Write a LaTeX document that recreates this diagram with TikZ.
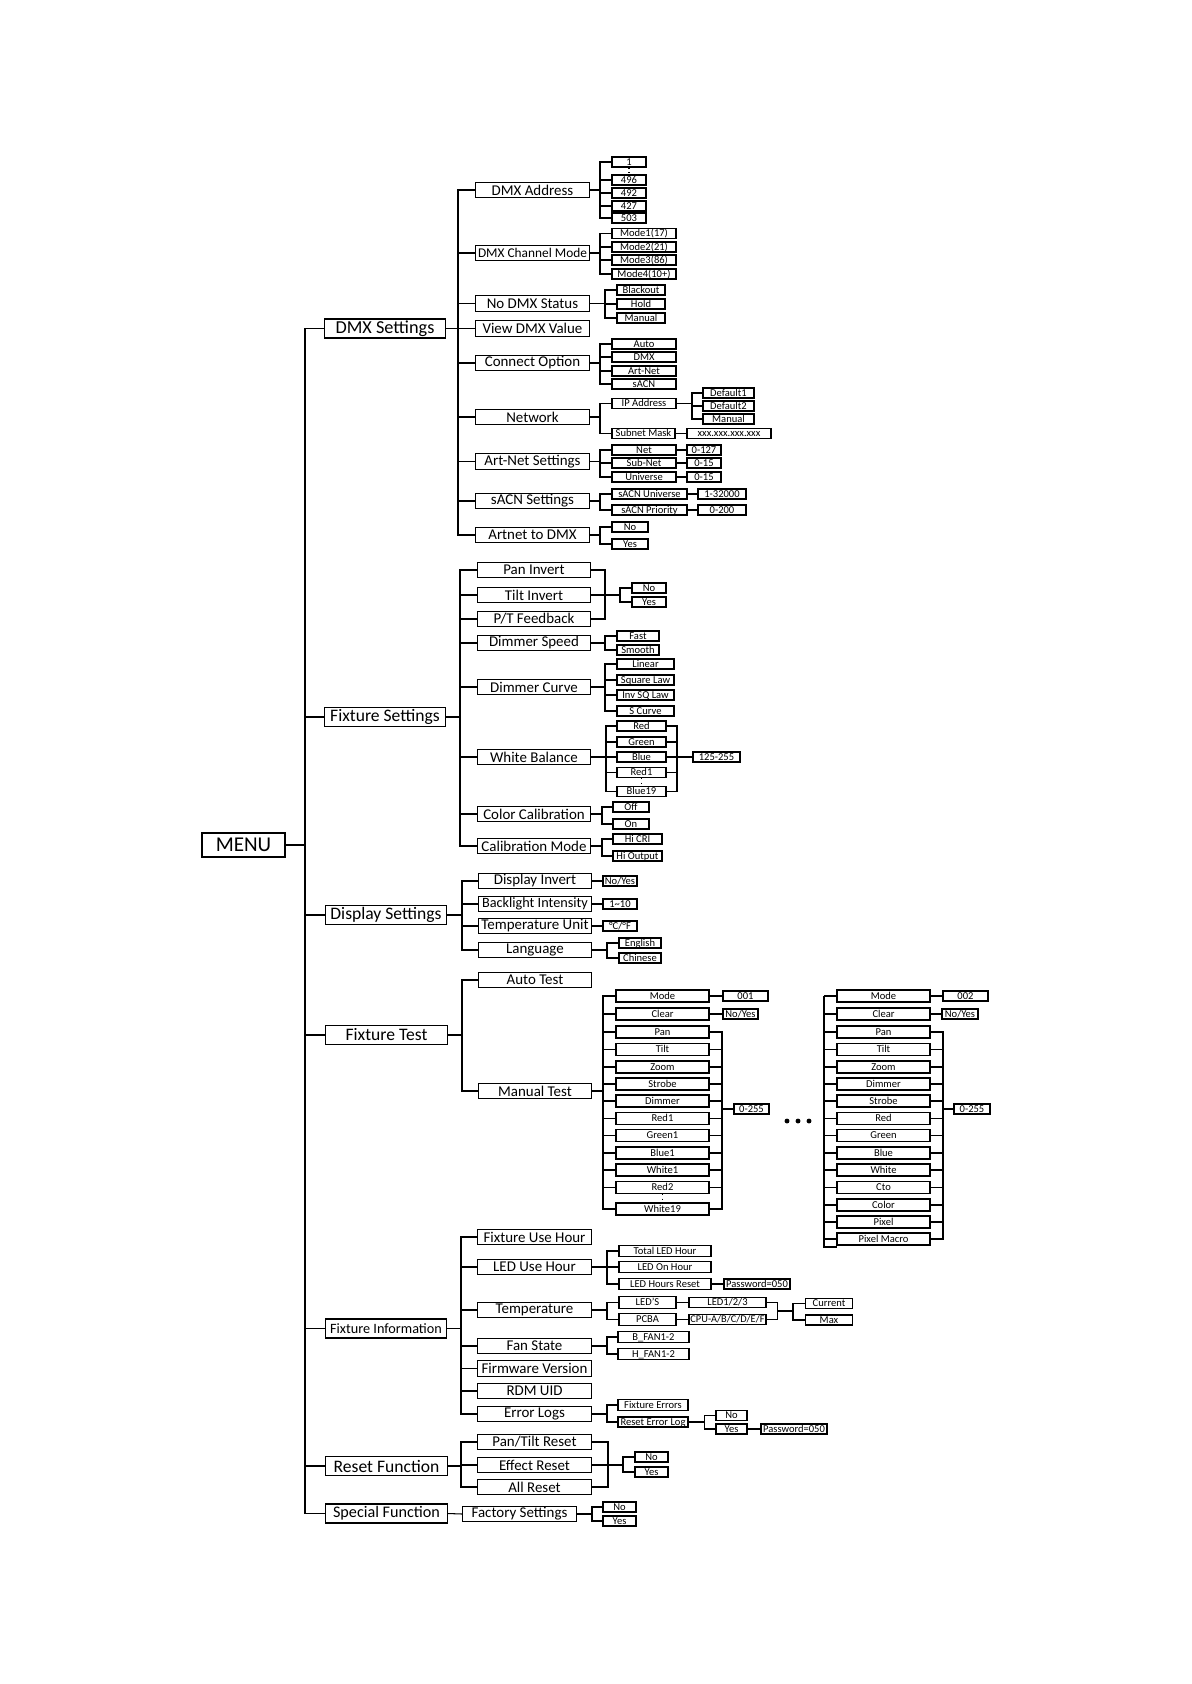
\documentclass[tikz,border=0pt]{standalone}
\usepackage{fontspec}
\setmainfont{Carlito}

\tikzset{
  menubox/.style={draw, line width=0.8pt, minimum width=1.66cm, minimum height=0.48cm, inner sep=0pt, font=\fontsize{12}{12}\selectfont},
  catbox/.style={draw, line width=0.7pt, minimum width=2.43cm, minimum height=0.38cm, inner sep=0pt, font=\fontsize{10}{10}\selectfont},
  itembox/.style={draw, line width=0.7pt, minimum width=2.27cm, minimum height=0.31cm, inner sep=0pt, font=\fontsize{8.5}{9}\selectfont},
  optbox/.style={draw, line width=0.6pt, minimum height=0.2cm, inner sep=0pt, text height=4.4pt, text depth=0.6pt, font=\fontsize{6}{6.5}\selectfont},
  chbox/.style={optbox, minimum width=1.86cm, minimum height=0.24cm},
  wire/.style={line width=0.6pt},
}

\begin{document}
\begin{tikzpicture}[x=0.02cm, y=-0.02cm]
\useasboundingbox (0,0) rectangle (1191,1684);

% Menu and main groups
\node[menubox] (menu) at (243.5,845) {MENU};
\coordinate (trunk) at (305,845);
\node[catbox, font=\fontsize{10.4}{11}\selectfont] (dmx) at (385,328.5) {DMX Settings};
\node[catbox] (fix) at (385,717) {Fixture Settings};
\node[catbox] (disp) at (386,915) {Display Settings};
\node[catbox] (ftest) at (386.5,1035) {Fixture Test};
\node[catbox, font=\fontsize{8.1}{9}\selectfont] (finfo) at (386,1328.5) {Fixture Information};
\node[catbox] (reset) at (386.5,1466) {Reset Function};
\node[catbox, font=\fontsize{9.2}{10}\selectfont] (special) at (386.5,1513.5) {Special Function};
\foreach \c in {dmx,fix,disp,ftest,finfo,reset,special}
  \draw[wire] (menu.east) -| (trunk |- \c) -- (\c.west);

% DMX Settings
\node[itembox] (dmxaddr) at (532.5,190) {DMX Address};
\node[itembox, font=\fontsize{7.6}{8}\selectfont] (chmode) at (532.5,253) {DMX Channel Mode};
\node[itembox] (nodmx) at (532.5,303.5) {No DMX Status};
\node[itembox] (viewdmx) at (532.5,328.5) {View DMX Value};
\node[itembox] (conn) at (532.5,363) {Connect Option};
\node[itembox] (net) at (532.5,417) {Network};
\node[itembox] (artset) at (532.5,461.5) {Art-Net Settings};
\node[itembox] (sacnset) at (532.5,501) {sACN Settings};
\node[itembox] (art2dmx) at (532.5,535) {Artnet to DMX};
\coordinate (bdmx) at (458,0);
\foreach \c in {dmxaddr,chmode,nodmx,viewdmx,conn,net,artset,sacnset,art2dmx}
  \draw[wire] (dmx.east) -| (bdmx |- \c) -- (\c.west);

\node[optbox, minimum width=0.68cm] (a1) at (629,162) {1};
\node[optbox, minimum width=0.68cm] (a496) at (629,180) {496};
\node[optbox, minimum width=0.68cm] (a492) at (629,193) {492};
\node[optbox, minimum width=0.68cm] (a427) at (629,206) {427};
\node[optbox, minimum width=0.68cm] (a503) at (629,218) {503};
\draw[wire, dotted] (a1.south) -- (a496.north);
\coordinate (baddr) at (600,0);
\foreach \c in {a1,a496,a492,a427,a503}
  \draw[wire] (dmxaddr.east) -| (baddr |- \c) -- (\c.west);

\node[optbox, minimum width=1.28cm] (m1) at (644,233.5) {Mode1(17)};
\node[optbox, minimum width=1.28cm] (m2) at (644,247) {Mode2(21)};
\node[optbox, minimum width=1.28cm] (m3) at (644,260) {Mode3(86)};
\node[optbox, minimum width=1.28cm] (m4) at (644,274) {Mode4(10+)};
\coordinate (bmode) at (600,0);
\foreach \c in {m1,m2,m3,m4}
  \draw[wire] (chmode.east) -| (bmode |- \c) -- (\c.west);

\node[optbox, minimum width=0.96cm] (nd1) at (641,290) {Blackout};
\node[optbox, minimum width=0.96cm] (nd2) at (641,304) {Hold};
\node[optbox, minimum width=0.96cm] (nd3) at (641,318) {Manual};
\coordinate (bnodmx) at (605,0);
\foreach \c in {nd1,nd2,nd3}
  \draw[wire] (nodmx.east) -| (bnodmx |- \c) -- (\c.west);

\node[optbox, minimum width=1.28cm] (c1) at (644,344) {Auto};
\node[optbox, minimum width=1.28cm] (c2) at (644,357) {DMX};
\node[optbox, minimum width=1.28cm] (c3) at (644,371) {Art-Net};
\node[optbox, minimum width=1.28cm] (c4) at (644,384) {sACN};
\coordinate (bconn) at (600,0);
\foreach \c in {c1,c2,c3,c4}
  \draw[wire] (conn.east) -| (bconn |- \c) -- (\c.west);

\node[optbox, minimum width=1.28cm] (ip) at (644,403.5) {IP Address};
\node[optbox, minimum width=1.26cm] (subnet) at (643.5,433.5) {Subnet Mask};
\coordinate (bnet) at (600,0);
\foreach \c in {ip,subnet}
  \draw[wire] (net.east) -| (bnet |- \c) -- (\c.west);
\node[optbox, minimum width=1.02cm] (d1) at (728.5,393) {Default1};
\node[optbox, minimum width=1.02cm] (d2) at (728.5,406) {Default2};
\node[optbox, minimum width=1.02cm] (d3) at (728.5,419) {Manual};
\coordinate (bip) at (692,0);
\foreach \c in {d1,d2,d3}
  \draw[wire] (ip.east) -| (bip |- \c) -- (\c.west);
\node[optbox, minimum width=1.68cm] (mask) at (729,433.5) {xxx.xxx.xxx.xxx};
\draw[wire] (subnet.east) -- (mask.west);

\node[optbox, minimum width=1.28cm] (an1) at (644,450) {Net};
\node[optbox, minimum width=1.28cm] (an2) at (644,463) {Sub-Net};
\node[optbox, minimum width=1.28cm] (an3) at (644,477) {Universe};
\node[optbox, minimum width=0.68cm] (av1) at (704,450) {0-127};
\node[optbox, minimum width=0.68cm] (av2) at (704,463) {0-15};
\node[optbox, minimum width=0.68cm] (av3) at (704,477) {0-15};
\coordinate (bart) at (600,0);
\foreach \c/\v in {an1/av1,an2/av2,an3/av3} {
  \draw[wire] (artset.east) -| (bart |- \c) -- (\c.west);
  \draw[wire] (\c.east) -- (\v.west);
}

\node[optbox, minimum width=1.5cm] (sc1) at (649.5,494) {sACN Universe};
\node[optbox, minimum width=1.5cm] (sc2) at (649.5,510) {sACN Priority};
\node[optbox, minimum width=0.96cm] (sv1) at (722,494) {1-32000};
\node[optbox, minimum width=0.96cm] (sv2) at (722,510) {0-200};
\coordinate (bsacn) at (600,0);
\foreach \c/\v in {sc1/sv1,sc2/sv2} {
  \draw[wire] (sacnset.east) -| (bsacn |- \c) -- (\c.west);
  \draw[wire] (\c.east) -- (\v.west);
}

\node[optbox, minimum width=0.72cm] (ad1) at (630,527) {No};
\node[optbox, minimum width=0.72cm] (ad2) at (630,544) {Yes};
\coordinate (bad) at (600,0);
\foreach \c in {ad1,ad2}
  \draw[wire] (art2dmx.east) -| (bad |- \c) -- (\c.west);

% Fixture Settings
\node[itembox] (panInv) at (534,570) {Pan Invert};
\node[itembox] (tiltInv) at (534,595) {Tilt Invert};
\node[itembox] (ptfb) at (534,619) {P/T Feedback};
\node[itembox] (dimSpd) at (534,643) {Dimmer Speed};
\node[itembox] (dimCur) at (534,687) {Dimmer Curve};
\node[itembox] (wb) at (534,757) {White Balance};
\node[itembox] (colCal) at (534,814) {Color Calibration};
\node[itembox] (calMode) at (534,846) {Calibration Mode};
\coordinate (bfix) at (460,0);
\foreach \c in {panInv,tiltInv,ptfb,dimSpd,dimCur,wb,colCal,calMode}
  \draw[wire] (fix.east) -| (bfix |- \c) -- (\c.west);

\node[optbox, minimum width=0.68cm] (inv1) at (649,588) {No};
\node[optbox, minimum width=0.68cm] (inv2) at (649,602) {Yes};
\coordinate (jinv) at (605,595);
\coordinate (binv) at (620,595);
\foreach \c in {panInv,tiltInv,ptfb}
  \draw[wire] (\c.east) -| (jinv);
\draw[wire] (jinv) -- (binv);
\foreach \c in {inv1,inv2}
  \draw[wire] (binv) |- (\c.west);

\node[optbox, minimum width=0.84cm] (ds1) at (638,636) {Fast};
\node[optbox, minimum width=0.84cm] (ds2) at (638,650) {Smooth};
\coordinate (bds) at (605,0);
\foreach \c in {ds1,ds2}
  \draw[wire] (dimSpd.east) -| (bds |- \c) -- (\c.west);

\node[optbox, minimum width=1.14cm] (dc1) at (645.5,664) {Linear};
\node[optbox, minimum width=1.14cm] (dc2) at (645.5,680) {Square Law};
\node[optbox, minimum width=1.14cm] (dc3) at (645.5,695) {Inv SQ Law};
\node[optbox, minimum width=1.14cm] (dc4) at (645.5,711) {S Curve};
\coordinate (bdc) at (605,0);
\foreach \c in {dc1,dc2,dc3,dc4}
  \draw[wire] (dimCur.east) -| (bdc |- \c) -- (\c.west);

\node[optbox, minimum width=0.98cm] (wb1) at (641.5,726) {Red};
\node[optbox, minimum width=0.98cm] (wb2) at (641.5,742) {Green};
\node[optbox, minimum width=0.98cm] (wb3) at (641.5,757) {Blue};
\node[optbox, minimum width=0.98cm] (wb4) at (641.5,772.5) {Red1};
\node[optbox, minimum width=0.98cm] (wb5) at (641.5,791.5) {Blue19};
\node[optbox, minimum width=0.94cm] (wbv) at (716.5,757) {125-255};
\draw[wire, dotted] (wb4.south) -- (wb5.north);
\coordinate (bwb) at (606,0);
\coordinate (jwb) at (677,757);
\foreach \c in {wb1,wb2,wb3,wb4,wb5} {
  \draw[wire] (wb.east) -| (bwb |- \c) -- (\c.west);
  \draw[wire] (\c.east) -| (jwb);
}
\draw[wire] (jwb) -- (wbv.west);

\node[optbox, minimum width=0.72cm] (cc1) at (631,807) {Off};
\node[optbox, minimum width=0.72cm] (cc2) at (631,824) {On};
\coordinate (bcc) at (602,0);
\foreach \c in {cc1,cc2}
  \draw[wire] (colCal.east) -| (bcc |- \c) -- (\c.west);

\node[optbox, minimum width=0.98cm] (cm1) at (637.5,839) {Hi CRI};
\node[optbox, minimum width=0.98cm] (cm2) at (637.5,856) {Hi Output};
\coordinate (bcm) at (602,0);
\foreach \c in {cm1,cm2}
  \draw[wire] (calMode.east) -| (bcm |- \c) -- (\c.west);

% Display Settings
\node[itembox] (dInv) at (535,881) {Display Invert};
\node[itembox, font=\fontsize{8.1}{9}\selectfont] (blInt) at (535,904) {Backlight Intensity};
\node[itembox] (tUnit) at (535,926) {Temperature Unit};
\node[itembox] (lang) at (535,950) {Language};
\coordinate (bdisp) at (462,0);
\foreach \c in {dInv,blInt,tUnit,lang}
  \draw[wire] (disp.east) -| (bdisp |- \c) -- (\c.west);
\node[optbox, minimum width=0.68cm] (dv1) at (620,881) {No/Yes};
\node[optbox, minimum width=0.68cm] (dv2) at (620,904) {1\textasciitilde10};
\node[optbox, minimum width=0.68cm] (dv3) at (620,926) {°C/°F};
\foreach \c/\v in {dInv/dv1,blInt/dv2,tUnit/dv3}
  \draw[wire] (\c.east) -- (\v.west);
\node[optbox, minimum width=0.84cm] (lg1) at (640,943) {English};
\node[optbox, minimum width=0.84cm] (lg2) at (640,958) {Chinese};
\coordinate (blang) at (607,0);
\foreach \c in {lg1,lg2}
  \draw[wire] (lang.east) -| (blang |- \c) -- (\c.west);

% Fixture Test
\node[itembox] (auto) at (535,980) {Auto Test};
\node[itembox] (manual) at (535,1091) {Manual Test};
\coordinate (btest) at (462,0);
\foreach \c in {auto,manual}
  \draw[wire] (ftest.east) -| (btest |- \c) -- (\c.west);

\node[chbox] (mt1) at (662.5,996) {Mode};
\node[chbox] (mt2) at (662.5,1014) {Clear};
\node[chbox] (mt3) at (662.5,1032) {Pan};
\node[chbox] (mt4) at (662.5,1049.5) {Tilt};
\node[chbox] (mt5) at (662.5,1067) {Zoom};
\node[chbox] (mt6) at (662.5,1084) {Strobe};
\node[chbox] (mt7) at (662.5,1101) {Dimmer};
\node[chbox] (mt8) at (662.5,1118.5) {Red1};
\node[chbox] (mt9) at (662.5,1135.5) {Green1};
\node[chbox] (mt10) at (662.5,1153) {Blue1};
\node[chbox] (mt11) at (662.5,1170) {White1};
\node[chbox] (mt12) at (662.5,1187.5) {Red2};
\node[chbox] (mt13) at (662.5,1209) {White19};
\draw[wire, dotted] (mt12.south) -- (mt13.north);
\coordinate (bmt) at (603,0);
\foreach \c in {mt1,mt2,mt3,mt4,mt5,mt6,mt7,mt8,mt9,mt10,mt11,mt12,mt13}
  \draw[wire] (manual.east) -| (bmt |- \c) -- (\c.west);
\node[optbox, minimum width=0.9cm] (mtv1) at (745.5,996) {001};
\node[optbox, minimum width=0.7cm] (mtv2) at (740.5,1014) {No/Yes};
\draw[wire] (mt1.east) -- (mtv1.west);
\draw[wire] (mt2.east) -- (mtv2.west);
\node[optbox, minimum width=0.7cm] (mtv) at (751.5,1109) {0-255};
\coordinate (jmt) at (722,1109);
\foreach \c in {mt3,mt4,mt5,mt6,mt7,mt8,mt9,mt10,mt11,mt12,mt13}
  \draw[wire] (\c.east) -| (jmt);
\draw[wire] (jmt) -- (mtv.west);

\foreach \x in {787,798,809}
  \fill (\x,1121) circle (1.4pt);

\node[chbox] (mu1) at (883.5,996) {Mode};
\node[chbox] (mu2) at (883.5,1014) {Clear};
\node[chbox] (mu3) at (883.5,1032) {Pan};
\node[chbox] (mu4) at (883.5,1049.5) {Tilt};
\node[chbox] (mu5) at (883.5,1067) {Zoom};
\node[chbox] (mu6) at (883.5,1084) {Dimmer};
\node[chbox] (mu7) at (883.5,1101) {Strobe};
\node[chbox] (mu8) at (883.5,1118.5) {Red};
\node[chbox] (mu9) at (883.5,1135.5) {Green};
\node[chbox] (mu10) at (883.5,1153) {Blue};
\node[chbox] (mu11) at (883.5,1170) {White};
\node[chbox] (mu12) at (883.5,1187.5) {Cto};
\node[chbox] (mu13) at (883.5,1205) {Color};
\node[chbox] (mu14) at (883.5,1222) {Pixel};
\node[chbox] (mu15) at (883.5,1239) {Pixel Macro};
\coordinate (bmu) at (824,1247);
\coordinate (bmuend) at (837,1247);
\draw[wire] (bmu |- mu1) -- (bmu) -- (bmuend);
\foreach \c in {mu1,mu2,mu3,mu4,mu5,mu6,mu7,mu8,mu9,mu10,mu11,mu12,mu13,mu14,mu15}
  \draw[wire] (bmu |- \c) -- (\c.west);
\node[optbox, minimum width=0.9cm] (muv1) at (965.5,996) {002};
\node[optbox, minimum width=0.72cm] (muv2) at (960,1014) {No/Yes};
\draw[wire] (mu1.east) -- (muv1.west);
\draw[wire] (mu2.east) -- (muv2.west);
\node[optbox, minimum width=0.72cm] (muv) at (972,1109) {0-255};
\coordinate (jmu) at (943,1109);
\foreach \c in {mu3,mu4,mu5,mu6,mu7,mu8,mu9,mu10,mu11,mu12,mu13,mu14,mu15}
  \draw[wire] (\c.east) -| (jmu);
\draw[wire] (jmu) -- (muv.west);

% Fixture Information
\node[itembox] (fuh) at (534.5,1237) {Fixture Use Hour};
\node[itembox] (luh) at (534.5,1267) {LED Use Hour};
\node[itembox] (temp) at (534.5,1310) {Temperature};
\node[itembox] (fan) at (534.5,1346) {Fan State};
\node[itembox] (fw) at (534.5,1368.5) {Firmware Version};
\node[itembox] (rdm) at (534.5,1391) {RDM UID};
\node[itembox] (elog) at (534.5,1414) {Error Logs};
\coordinate (binfo) at (461,0);
\foreach \c in {fuh,luh,temp,fan,fw,rdm,elog}
  \draw[wire] (finfo.east) -| (binfo |- \c) -- (\c.west);

\node[optbox, minimum width=1.84cm, minimum height=0.23cm] (lh1) at (665,1251) {Total LED Hour};
\node[optbox, minimum width=1.84cm, minimum height=0.23cm] (lh2) at (665,1267) {LED On Hour};
\node[optbox, minimum width=1.84cm, minimum height=0.23cm] (lh3) at (665,1284) {LED Hours Reset};
\coordinate (bluh) at (607,0);
\foreach \c in {lh1,lh2,lh3}
  \draw[wire] (luh.east) -| (bluh |- \c) -- (\c.west);
\node[optbox, minimum width=1.32cm] (pw1) at (757,1284) {Password=050};
\draw[wire] (lh3.east) -- (pw1.west);

\node[optbox, minimum width=1.14cm, minimum height=0.23cm] (t1) at (647.5,1302.5) {LED’S};
\node[optbox, minimum width=1.14cm, minimum height=0.23cm] (t2) at (647.5,1319.5) {PCBA};
\coordinate (btemp) at (607,0);
\foreach \c in {t1,t2}
  \draw[wire] (temp.east) -| (btemp |- \c) -- (\c.west);
\node[optbox, minimum width=1.54cm] (tv1) at (727.5,1302.5) {LED1/2/3};
\node[optbox, minimum width=1.54cm, font=\fontsize{5.9}{6}\selectfont] (tv2) at (727.5,1319.5) {CPU-A/B/C/D/E/F};
\draw[wire] (t1.east) -- (tv1.west);
\draw[wire] (t2.east) -- (tv2.west);
\node[optbox, minimum width=0.94cm] (tc1) at (829,1303.5) {Current};
\node[optbox, minimum width=0.94cm] (tc2) at (829,1320) {Max};
\coordinate (jt) at (777.5,1311);
\coordinate (bt) at (793,1311);
\foreach \c in {tv1,tv2}
  \draw[wire] (\c.east) -| (jt);
\draw[wire] (jt) -- (bt);
\foreach \c in {tc1,tc2}
  \draw[wire] (bt) |- (\c.west);

\node[optbox, minimum width=1.42cm, minimum height=0.23cm] (f1) at (653.5,1337) {B\_FAN1-2};
\node[optbox, minimum width=1.42cm, minimum height=0.23cm] (f2) at (653.5,1354) {H\_FAN1-2};
\coordinate (bfan) at (607,0);
\foreach \c in {f1,f2}
  \draw[wire] (fan.east) -| (bfan |- \c) -- (\c.west);

\node[optbox, minimum width=1.4cm, minimum height=0.23cm] (e1) at (653,1405) {Fixture Errors};
\node[optbox, minimum width=1.4cm] (e2) at (653,1422) {Reset Error Log};
\coordinate (belog) at (607,0);
\foreach \c in {e1,e2}
  \draw[wire] (elog.east) -| (belog |- \c) -- (\c.west);
\node[optbox, minimum width=0.62cm] (r1) at (731.5,1415.5) {No};
\node[optbox, minimum width=0.62cm] (r2) at (731.5,1429) {Yes};
\coordinate (breset) at (704.5,0);
\foreach \c in {r1,r2}
  \draw[wire] (e2.east) -| (breset |- \c) -- (\c.west);
\node[optbox, minimum width=1.32cm] (pw2) at (794,1429) {Password=050};
\draw[wire] (r2.east) -- (pw2.west);

% Reset Function
\node[itembox] (ptr) at (534.5,1442) {Pan/Tilt Reset};
\node[itembox] (efr) at (534.5,1465) {Effect Reset};
\node[itembox] (alr) at (534.5,1487) {All Reset};
\coordinate (brs) at (461,0);
\foreach \c in {ptr,efr,alr}
  \draw[wire] (reset.east) -| (brs |- \c) -- (\c.west);
\node[optbox, minimum width=0.66cm] (rs1) at (651.5,1457) {No};
\node[optbox, minimum width=0.66cm] (rs2) at (651.5,1472) {Yes};
\coordinate (jrs) at (608,1465);
\coordinate (krs) at (623,1465);
\foreach \c in {ptr,efr,alr}
  \draw[wire] (\c.east) -| (jrs);
\draw[wire] (jrs) -- (krs);
\foreach \c in {rs1,rs2}
  \draw[wire] (krs) |- (\c.west);

% Special Function
\node[itembox] (fs) at (519.5,1514) {Factory Settings};
\draw[wire] (special.east) -- (fs.west);
\node[optbox, minimum width=0.66cm] (sp1) at (619.5,1507) {No};
\node[optbox, minimum width=0.66cm] (sp2) at (619.5,1521) {Yes};
\coordinate (bfs) at (592,0);
\foreach \c in {sp1,sp2}
  \draw[wire] (fs.east) -| (bfs |- \c) -- (\c.west);

\end{tikzpicture}
\end{document}
